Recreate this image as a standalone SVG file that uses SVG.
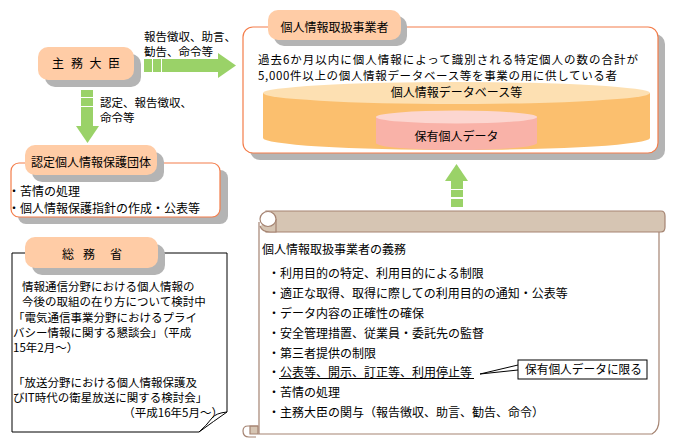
<svg xmlns="http://www.w3.org/2000/svg" width="676" height="445" viewBox="0 0 676 445">
<style>
.t{font-family:"Noto Sans CJK JP","Liberation Sans",sans-serif;font-size:12px;fill:#000}
.s{font-size:11.5px}
.hd{fill:#ffcca6}
.sh{fill:#b4b4b4}
.gr{fill:#9ad268}
.ob{fill:#fff;stroke:#f47d4a;stroke-width:1.2}
.sc{stroke:#a58472;stroke-width:1.2}
</style>
<rect width="676" height="445" fill="#fff"/>

<g id="connectors">
  <g id="arrow-right">
    <rect class="gr" x="144" y="59" width="8" height="13"/>
    <rect class="gr" x="153" y="59" width="8" height="13"/>
    <rect class="gr" x="162" y="59" width="57" height="13"/>
    <polygon class="gr" points="218,53 236,65.5 218,78"/>
  </g>
  <g id="arrow-down">
    <rect class="gr" x="81" y="90" width="12" height="7"/>
    <rect class="gr" x="81" y="98" width="12" height="8"/>
    <rect class="gr" x="81" y="107" width="12" height="20"/>
    <polygon class="gr" points="76,126 99,126 87.5,143"/>
  </g>
  <g id="arrow-up">
    <polygon class="gr" points="445,181 468,181 456.5,164"/>
    <rect class="gr" x="451" y="181" width="12" height="8"/>
    <rect class="gr" x="451" y="190" width="12" height="7"/>
    <rect class="gr" x="451" y="199" width="12" height="8"/>
  </g>
  <text class="t s" x="144" y="41">報告徴収、助言、</text>
  <text class="t s" x="144" y="56">勧告、命令等</text>
  <text class="t s" x="100" y="107">認定、報告徴収、</text>
  <text class="t s" x="100" y="122">命令等</text>
</g>

<g id="minister">
  <rect class="sh" x="45" y="54" width="96" height="33" rx="10"/>
  <rect class="hd" x="38" y="47" width="96" height="33" rx="10"/>
  <text class="t" x="52 71 89.5 108" y="68">主務大臣</text>
</g>

<g id="business-operator">
  <rect class="sh" x="250" y="34" width="415" height="126" rx="10"/>
  <rect class="ob" x="243" y="27" width="415" height="126" rx="10"/>
  <rect class="sh" x="274" y="16" width="133" height="30" rx="10"/>
  <rect class="hd" x="268" y="10" width="133" height="30" rx="10"/>
  <text class="t" x="334.5" y="32" text-anchor="middle">個人情報取扱事業者</text>
  <text class="t s" x="258" y="64" textLength="380" lengthAdjust="spacing">過去6か月以内に個人情報によって識別される特定個人の数の合計が</text>
  <text class="t s" x="258" y="80" textLength="359" lengthAdjust="spacing">5,000件以上の個人情報データベース等を事業の用に供している者</text>
  <g id="database">
    <path d="M263,93 V138 A193.5,12 0 0 0 650,138 V93 Z" fill="#fbbf6e"/>
    <ellipse cx="456.5" cy="93" rx="193.5" ry="11" fill="#fde0b2"/>
    <text class="t" x="456.5" y="97" text-anchor="middle">個人情報データベース等</text>
  </g>
  <g id="retained-data">
    <path d="M376,117 V143 A80.5,7 0 0 0 537,143 V117 Z" fill="#f9b2a8"/>
    <ellipse cx="456.5" cy="117" rx="80.5" ry="6.5" fill="#fcd6d0"/>
    <text class="t" x="456.5" y="141" text-anchor="middle">保有個人データ</text>
  </g>
</g>

<g id="certified-org">
  <rect class="sh" x="18" y="170" width="210" height="54" rx="8"/>
  <rect class="ob" x="11" y="163" width="209" height="54" rx="8"/>
  <rect class="sh" x="32" y="152" width="132" height="30" rx="10"/>
  <rect class="hd" x="25" y="145" width="132" height="30" rx="10"/>
  <text class="t" x="91" y="167" text-anchor="middle">認定個人情報保護団体</text>
  <text class="t" x="8" y="196">・苦情の処理</text>
  <text class="t" x="8" y="213">・個人情報保護指針の作成・公表等</text>
</g>

<g id="mic">
  <path d="M12,253 H227 V412 Q214,421 199,432 H12 Z" fill="#fff" stroke="#000" stroke-width="1"/>
  <path d="M227,412 Q216,413 212,418 Q206,426 199,432" fill="none" stroke="#000" stroke-width="1"/>
  <rect class="sh" x="32" y="244" width="133" height="31" rx="10"/>
  <rect class="hd" x="25" y="237" width="133" height="31" rx="10"/>
  <text class="t" x="62 83 110" y="259">総務省</text>
  <text class="t s" x="22" y="291">情報通信分野における個人情報の</text>
  <text class="t s" x="22" y="306">今後の取組の在り方について検討中</text>
  <text class="t s" x="13" y="322">「電気通信事業分野におけるプライ</text>
  <text class="t s" x="13" y="337">バシー情報に関する懇談会」（平成</text>
  <text class="t s" x="13" y="352">15年2月〜）</text>
  <text class="t s" x="13" y="387">「放送分野における個人情報保護及</text>
  <text class="t s" x="13" y="402">びIT時代の衛星放送に関する検討会」</text>
  <text class="t s" x="223" y="417" text-anchor="end">（平成16年5月〜）</text>
</g>

<g id="obligations">
  <path class="sc" d="M259,222 V434 H652 Q659,430 659,420 V232" fill="#fff"/>
  <path class="sc" d="M266,211 H661 Q665,211 665,216 V227 Q665,232 661,232 H266 Z" fill="#d6c5b3"/>
  <path class="sc" d="M260,226 Q262,232 270,232 H276 V219" fill="#d6c5b3"/>
  <ellipse class="sc" cx="268" cy="219" rx="8" ry="7.5" fill="#fff"/>
  <path class="sc" d="M250,426 H258 V434 H250 Z" fill="#d6c5b3"/>
  <path class="sc" d="M258,426 H248 Q243,426 243,431 Q243,437 249,437 H256" fill="none"/>
  <text class="t" x="262" y="254">個人情報取扱事業者の義務</text>
  <text class="t" x="268" y="278">・利用目的の特定、利用目的による制限</text>
  <text class="t" x="268" y="298">・適正な取得、取得に際しての利用目的の通知・公表等</text>
  <text class="t" x="268" y="318">・データ内容の正確性の確保</text>
  <text class="t" x="268" y="338">・安全管理措置、従業員・委託先の監督</text>
  <text class="t" x="268" y="358">・第三者提供の制限</text>
  <text class="t" x="268" y="377">・公表等、開示、訂正等、利用停止等</text>
  <line x1="279" y1="378.5" x2="474" y2="378.5" stroke="#000" stroke-width="1"/>
  <text class="t" x="268" y="397">・苦情の処理</text>
  <text class="t" x="268" y="417">・主務大臣の関与（報告徴収、助言、勧告、命令）</text>
</g>

<g id="callout">
  <polyline points="518,365 480,374 518,370" fill="#fff" stroke="#000" stroke-width="1"/>
  <rect x="518" y="360" width="129" height="19" fill="#fff" stroke="#000" stroke-width="1"/>
  <text class="t" x="525" y="374" textLength="117" lengthAdjust="spacingAndGlyphs">保有個人データに限る</text>
</g>
</svg>
